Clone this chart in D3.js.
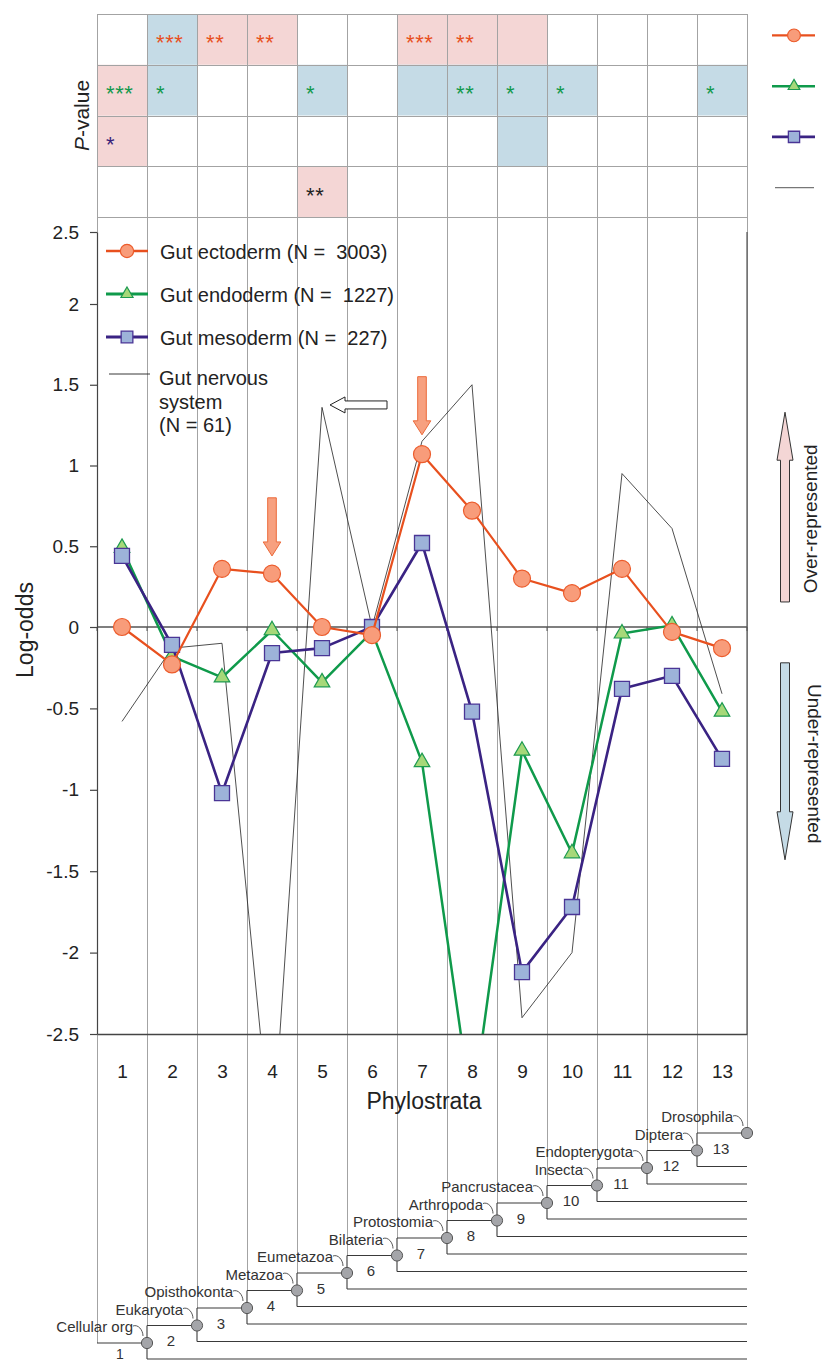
<!DOCTYPE html>
<html><head><meta charset="utf-8">
<script src="https://cdn.jsdelivr.net/npm/d3@7"></script>
<style>
body{margin:0;background:#fff;}
svg{display:block;font-family:"Liberation Sans",Arial,Helvetica,sans-serif;}
.pre{white-space:pre;}
</style>
</head><body>
<svg id="c" width="827" height="1361"></svg>
<script>
// ---------------- DATA ----------------
const strata = [1,2,3,4,5,6,7,8,9,10,11,12,13];
const ectoderm = [0.00,-0.23,0.36,0.33,0.00,-0.05,1.07,0.72,0.30,0.21,0.36,-0.03,-0.13];
const endoderm = [0.49,-0.18,-0.31,-0.02,-0.34,-0.03,-0.83,-2.98,-0.76,-1.39,-0.04,0.01,-0.52];
const mesoderm = [0.44,-0.11,-1.02,-0.16,-0.13,0.00,0.52,-0.52,-2.12,-1.72,-0.38,-0.30,-0.81];
const nervous  = [-0.58,-0.13,-0.10,-3.22,1.36,0.00,1.15,1.50,-2.40,-2.00,0.95,0.61,-0.41];
const seriesLabels = ["Gut ectoderm (N =  3003)","Gut endoderm (N =  1227)","Gut mesoderm (N =  227)"];
const nervousLabel = ["Gut nervous","system","(N = 61)"];
const yTicks = [2.5,2,1.5,1,0.5,0,-0.5,-1,-1.5,-2,-2.5];
const yTickLabels = ["2.5","2","1.5","1","0.5","0","-0.5","-1","-1.5","-2","-2.5"];
const xTickLabels = ["1","2","3","4","5","6","7","8","9","10","11","12","13"];
// P-value table: o = over-represented (pink), u = under-represented (blue)
const pShade = [
 ["","u","o","o","","","o","o","o","","","",""],
 ["o","u","","","u","","u","u","u","u","","","u"],
 ["o","","","","","","","","u","","","",""],
 ["","","","","o","","","","","","","",""]
];
const pStars = [
 ["","***","**","**","","","***","**","","","","",""],
 ["***","*","","","*","","","**","*","*","","","*"],
 ["*","","","","","","","","","","","",""],
 ["","","","","**","","","","","","","",""]
];
const cladeNames = ["Cellular org","Eukaryota","Opisthokonta","Metazoa","Eumetazoa","Bilateria","Protostomia","Arthropoda","Pancrustacea","Insecta","Endopterygota","Diptera","Drosophila"];
const branchLabels = ["1","2","3","4","5","6","7","8","9","10","11","12","13"];
// annotation arrows (stratum, from value, to value)
const downArrows = [{s:4, from:0.80, to:0.44},{s:7, from:1.55, to:1.19}];
const leftArrow = {v:1.375, from:6.3, to:5.16};
const sideArrows = [{from:0.155, to:1.33, fill:"#f4d6d5"},{from:-0.22, to:-1.43, fill:"#c5dbe6"}];
const sideLabels = [{text:"Over-represented", v:0.67, rot:-90},{text:"Under-represented", v:-0.84, rot:90}];

// ---------------- STYLES ----------------
const C = {
  ecto:{line:"#e8501e", fill:"#f89c7a", stroke:"#ec5c2c", w:2.2, m:"circle"},
  endo:{line:"#0f9a4b", fill:"#a6d879", stroke:"#1c9a50", w:2.5, m:"triangle"},
  meso:{line:"#3a2383", fill:"#9db3d9", stroke:"#4a3596", w:2.6, m:"square"},
  nerv:{line:"#222", w:0.8}
};
const pink = "#f4d6d5", blue = "#c5dbe6";
const starColors = ["#e8501e","#12994c","#3a1f7a","#222"];

// ---------------- SCALES ----------------
const svg = d3.select("#c");
const x = d3.scaleLinear().domain([0.5,13.5]).range([97,747]);
const y = d3.scaleLinear().domain([-2.5,0,2,2.5]).range([1034,627,304,232]);
const rowY = d3.scaleBand().domain(d3.range(4)).range([14,217]);
const nodeY = d3.scaleLinear().domain([1,13]).range([1343,1133]);
const nodeX = k => x(k+0.5);

// ---------------- TABLE CELLS ----------------
const cells = [];
pShade.forEach((row,r)=>row.forEach((s,c)=>cells.push({r,c,s,stars:pStars[r][c]})));
svg.append("g").selectAll("rect").data(cells.filter(d=>d.s)).join("rect")
  .attr("x",d=>x(d.c+0.5)).attr("y",d=>rowY(d.r))
  .attr("width",x(2)-x(1)).attr("height",rowY.bandwidth())
  .attr("fill",d=>d.s==="o"?pink:blue);

// ---------------- GRID LINES ----------------
const bounds = d3.range(0,14);
svg.append("g").selectAll("line").data(bounds).join("line")
  .attr("x1",k=>Math.round(nodeX(k))+0.5).attr("x2",k=>Math.round(nodeX(k))+0.5)
  .attr("y1",14)
  .attr("y2",k=> k===0 ? nodeY(1) : nodeY(Math.min(k+1,13)))
  .attr("stroke","#a3a3a3").attr("stroke-width",1);
// table horizontal lines
svg.append("g").selectAll("line").data(d3.range(5)).join("line")
  .attr("x1",x(0.5)).attr("x2",x(13.5)+1)
  .attr("y1",r=>Math.round(r<4?rowY(r):rowY(3)+rowY.bandwidth())+0.5)
  .attr("y2",r=>Math.round(r<4?rowY(r):rowY(3)+rowY.bandwidth())+0.5)
  .attr("stroke","#a3a3a3").attr("stroke-width",1);

// stars
svg.append("g").selectAll("text").data(cells.filter(d=>d.stars)).join("text")
  .attr("x",d=>x(d.c+0.5)+9).attr("y",d=>rowY(d.r)+rowY.bandwidth()/2+11)
  .attr("font-size",22).attr("letter-spacing",0.6)
  .attr("fill",d=>starColors[d.r]).text(d=>d.stars);

svg.append("text").attr("transform",`translate(89,${(rowY(0)+rowY(3)+rowY.bandwidth())/2}) rotate(-90)`)
  .attr("text-anchor","middle").attr("font-size",21).attr("fill","#222")
  .call(t=>{t.append("tspan").attr("font-style","italic").text("P");t.append("tspan").text("-value");});

// ---------------- MARKERS ----------------
function drawMarker(g, type, cx, cy, sc=1){
  if(type==="circle"){
    g.append("circle").attr("cx",cx).attr("cy",cy).attr("r",8.5*sc)
      .attr("fill",C.ecto.fill).attr("stroke",C.ecto.stroke).attr("stroke-width",1.2);
  } else if(type==="triangle"){
    g.append("path").attr("d",d3.symbol(d3.symbolTriangle, 105*sc*sc)())
      .attr("transform",`translate(${cx},${cy})`)
      .attr("fill",C.endo.fill).attr("stroke",C.endo.stroke).attr("stroke-width",1.2);
  } else {
    g.append("path").attr("d",d3.symbol(d3.symbolSquare, 225*sc*sc)())
      .attr("transform",`translate(${cx},${cy})`)
      .attr("fill",C.meso.fill).attr("stroke",C.meso.stroke).attr("stroke-width",1.3);
  }
}

// table legend (right)
const tblLegend = [C.ecto,C.endo,C.meso,C.nerv];
tblLegend.forEach((s,r)=>{
  const cy = rowY(r)+rowY.bandwidth()/2-4;
  const g = svg.append("g");
  if(r<3){
    g.append("line").attr("x1",772).attr("x2",815).attr("y1",cy).attr("y2",cy)
      .attr("stroke",s.line).attr("stroke-width",s.w);
    drawMarker(g,s.m,794,cy,0.75);
  } else {
    g.append("line").attr("x1",775).attr("x2",814).attr("y1",cy).attr("y2",cy)
      .attr("stroke","#777").attr("stroke-width",1.2);
  }
});

// ---------------- CHART ----------------
const plot = svg.append("g");
svg.append("clipPath").attr("id","clip").append("rect")
  .attr("x",x(0.5)).attr("y",y(2.5)).attr("width",x(13.5)-x(0.5)).attr("height",y(-2.5)-y(2.5));

// zero line
plot.append("line").attr("x1",x(0.5)).attr("x2",x(13.5)).attr("y1",y(0)).attr("y2",y(0))
  .attr("stroke","#555").attr("stroke-width",1.3);
plot.append("g").selectAll("line").data(bounds).join("line")
  .attr("x1",k=>nodeX(k)).attr("x2",k=>nodeX(k)).attr("y1",y(0)).attr("y2",y(0)+4)
  .attr("stroke","#555");
// right border
plot.append("line").attr("x1",x(13.5)).attr("x2",x(13.5)).attr("y1",y(2.5)).attr("y2",y(-2.5))
  .attr("stroke","#555").attr("stroke-width",1.2);

// y axis
const yAxis = d3.axisLeft(y).tickValues(yTicks).tickFormat((d,i)=>yTickLabels[i]).tickSize(7).tickPadding(11).tickSizeOuter(0);
const gy = svg.append("g").attr("transform",`translate(${x(0.5)},0)`).call(yAxis);
gy.selectAll("text").attr("font-size",19).attr("fill","#222").attr("font-family","Liberation Sans, Arial, sans-serif");
gy.selectAll("line,path").attr("stroke","#444").attr("stroke-width",1.2);

// x axis
const xAxis = d3.axisBottom(x).tickValues(strata).tickFormat((d,i)=>xTickLabels[i]).tickSize(0).tickPadding(31).tickSizeOuter(0);
const gx = svg.append("g").attr("transform",`translate(0,${y(-2.5)})`).call(xAxis);
gx.selectAll("text").attr("font-size",19).attr("fill","#222").attr("font-family","Liberation Sans, Arial, sans-serif");
gx.select(".domain").attr("stroke","#444").attr("stroke-width",1.3);

svg.append("text").attr("x",(x(0.5)+x(13.5))/2+2).attr("y",1109).attr("text-anchor","middle")
  .attr("font-size",23).attr("fill","#222").text("Phylostrata");
svg.append("text").attr("transform",`translate(33,${y(0)+3}) rotate(-90)`).attr("text-anchor","middle")
  .attr("font-size",23).attr("fill","#222").text("Log-odds");

// series
const data = plot.append("g").attr("clip-path","url(#clip)");
const line = d3.line().x((d,i)=>x(strata[i])).y(d=>y(d));
data.append("path").attr("d",line(nervous)).attr("fill","none").attr("stroke",C.nerv.line).attr("stroke-width",C.nerv.w);
[[endoderm,C.endo],[mesoderm,C.meso],[ectoderm,C.ecto]].forEach(([vals,s])=>{
  data.append("path").attr("d",line(vals)).attr("fill","none").attr("stroke",s.line)
    .attr("stroke-width",s.w).attr("stroke-linejoin","round");
  const mg = data.append("g");
  vals.forEach((v,i)=>drawMarker(mg,s.m,x(strata[i]),y(v)));
});

// annotations: orange down arrows
function vArrow(cx, yFrom, yTo, sw, hw, hl){
  const dir = Math.sign(yTo-yFrom);
  const yb = yTo - dir*hl;
  return `M${cx-sw},${yFrom}L${cx+sw},${yFrom}L${cx+sw},${yb}L${cx+hw},${yb}L${cx},${yTo}L${cx-hw},${yb}L${cx-sw},${yb}Z`;
}
plot.append("g").selectAll("path").data(downArrows).join("path")
  .attr("d",d=>vArrow(x(d.s),y(d.from),y(d.to),4.3,8.8,14))
  .attr("fill","#f7a07f").attr("stroke","#ec6a3a").attr("stroke-width",1);
// white left arrow
(function(){
  const yc=y(leftArrow.v), xt=x(leftArrow.to), xe=x(leftArrow.from), hl=15;
  plot.append("path").attr("d",
    `M${xt},${yc}L${xt+hl},${yc-8}L${xt+hl},${yc-4}L${xe},${yc-4}L${xe},${yc+4}L${xt+hl},${yc+4}L${xt+hl},${yc+8}Z`)
    .attr("fill","#fff").attr("stroke","#222").attr("stroke-width",1);
})();

// side arrows
svg.append("g").selectAll("path").data(sideArrows).join("path")
  .attr("d",d=>vArrow(785,y(d.from),y(d.to),4.5,8,48))
  .attr("fill",d=>d.fill).attr("stroke","#333").attr("stroke-width",1);
svg.append("g").selectAll("text").data(sideLabels).join("text")
  .attr("transform",d=>`translate(${d.rot<0?817:808},${y(d.v)}) rotate(${d.rot})`)
  .attr("text-anchor","middle").attr("font-size",19).attr("fill","#222").text(d=>d.text);

// legend in chart
const lg = svg.append("g");
const legY = [251,294,337];
[C.ecto,C.endo,C.meso].forEach((s,i)=>{
  lg.append("line").attr("x1",106).attr("x2",148).attr("y1",legY[i]).attr("y2",legY[i])
    .attr("stroke",s.line).attr("stroke-width",s.w+0.5);
  drawMarker(lg,s.m,127,legY[i],0.78);
  lg.append("text").attr("class","pre").attr("x",160).attr("y",legY[i]+8).attr("font-size",20).attr("fill","#222").text(seriesLabels[i]);
});
lg.append("line").attr("x1",109).attr("x2",150).attr("y1",374).attr("y2",374).attr("stroke","#222").attr("stroke-width",0.9);
lg.selectAll("text.nv").data(nervousLabel).join("text").attr("class","nv")
  .attr("x",159).attr("y",(d,i)=>385+i*23.5).attr("font-size",20).attr("fill","#222").text(d=>d);

// ---------------- TREE ----------------
const tree = svg.append("g").attr("stroke","#3a3a3a").attr("stroke-width",1.1).attr("fill","none");
// root stem
tree.append("line").attr("x1",nodeX(0)).attr("x2",nodeX(1)).attr("y1",nodeY(1)).attr("y2",nodeY(1));
d3.range(1,13).forEach(k=>{
  const xk=nodeX(k), yk=nodeY(k), yt=nodeY(k+1), yb=yk+16;
  tree.append("line").attr("x1",xk).attr("x2",xk).attr("y1",yt).attr("y2",yb);
  tree.append("line").attr("x1",xk).attr("x2",nodeX(k+1)).attr("y1",yt).attr("y2",yt);
  tree.append("line").attr("x1",xk).attr("x2",nodeX(13)).attr("y1",yb).attr("y2",yb);
});
// connectors
svg.append("g").selectAll("path").data(d3.range(1,14)).join("path")
  .attr("d",k=>{const X=nodeX(k),Y=nodeY(k);return `M${X-14},${Y-17}C${X-9},${Y-19} ${X-4},${Y-13} ${X-4},${Y-7}`;})
  .attr("fill","none").attr("stroke","#444").attr("stroke-width",0.9);
// nodes
svg.append("g").selectAll("circle").data(d3.range(1,14)).join("circle")
  .attr("cx",k=>nodeX(k)).attr("cy",k=>nodeY(k)).attr("r",5.6)
  .attr("fill","#a4a5a9").attr("stroke","#555").attr("stroke-width",1);
// clade names
svg.append("g").selectAll("text").data(cladeNames).join("text")
  .attr("x",(d,i)=>nodeX(i+1)-14).attr("y",(d,i)=>nodeY(i+1)-11)
  .attr("text-anchor","end").attr("font-size",15).attr("fill","#333").text(d=>d);
// branch numbers
svg.append("g").selectAll("text").data(branchLabels).join("text")
  .attr("x",(d,i)=> i===0 ? x(1)-2 : nodeX(i)+24)
  .attr("y",(d,i)=> i===0 ? 1359 : nodeY(i)+3)
  .attr("text-anchor","middle").attr("font-size",(d,i)=> i===0 ? 14 : 15).attr("fill","#333").text(d=>d);
</script>
</body></html>
